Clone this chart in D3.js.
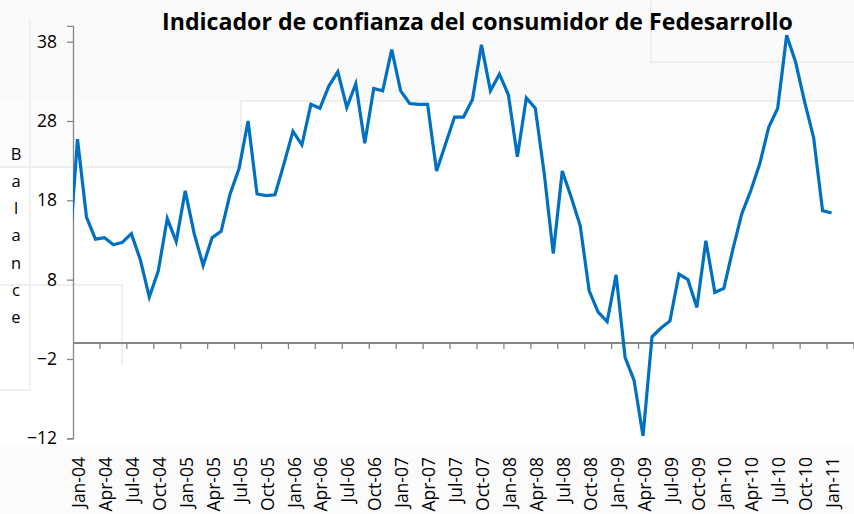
<!DOCTYPE html>
<html>
<head>
<meta charset="utf-8">
<script src="https://cdn.jsdelivr.net/npm/d3@7"></script>
<style>
  html, body { margin: 0; padding: 0; background: #fff; }
  svg { display: block; font-family: "Open Sans", sans-serif; }
</style>
</head>
<body>
<script>
// Datos: indicador mensual, Jan-04 a Jan-11
const valorPrevio = 10.0; // Dec-03, queda recortado en el borde del eje
const valores = [
  25.7, 15.9, 13.1, 13.3, 12.4, 12.7, 13.8, 10.5, 5.8, 9.1, 15.7, 12.8,
  19.2, 13.8, 9.8, 13.3, 14.1, 18.8, 22.0, 28.0, 18.8, 18.6, 18.7, 22.6,
  26.7, 25.0, 30.1, 29.6, 32.4, 34.2, 29.7, 32.7, 25.2, 32.1, 31.8, 37.0,
  31.8, 30.2, 30.1, 30.1, 21.7, 25.1, 28.5, 28.5, 30.7, 37.6, 31.8, 33.9,
  31.3, 23.5, 30.9, 29.6, 21.3, 11.3, 21.7, 18.4, 14.8, 6.6, 3.9, 2.7,
  8.6, -1.8, -4.7, -11.7, 0.8, 1.9, 2.8, 8.7, 8.0, 4.5, 12.9, 6.4,
  6.9, 11.8, 16.3, 19.2, 22.6, 27.2, 29.6, 38.8, 35.4, 30.4, 25.9, 16.7,
  16.4
];
const etiquetasX = [
  "Jan-04", "Apr-04", "Jul-04", "Oct-04", "Jan-05", "Apr-05", "Jul-05", "Oct-05",
  "Jan-06", "Apr-06", "Jul-06", "Oct-06", "Jan-07", "Apr-07", "Jul-07", "Oct-07",
  "Jan-08", "Apr-08", "Jul-08", "Oct-08", "Jan-09", "Apr-09", "Jul-09", "Oct-09",
  "Jan-10", "Apr-10", "Jul-10", "Oct-10", "Jan-11"
];
const ticksY = [-12, -2, 8, 18, 28, 38];
const totalCategorias = 87; // Jan-04 .. Mar-11
const titulo = "Indicador de confianza del consumidor de Fedesarrollo";
const etiquetaY = "Balance";

const width = 854;
const height = 514;

const svg = d3.select("body").append("svg")
  .attr("width", width)
  .attr("height", height);

// Fondo con los restos de la plantilla
svg.append("rect").attr("x", 0).attr("y", 0).attr("width", width).attr("height", 101).attr("fill", "#fafafa");
svg.append("rect").attr("x", 0).attr("y", 101).attr("width", 241).attr("height", 66).attr("fill", "#fcfcfc");
svg.append("rect").attr("x", 0).attr("y", 445).attr("width", width).attr("height", 69).attr("fill", "#fbfbfb");
const deco = svg.append("g").attr("fill", "none").attr("stroke", "#efefef").attr("stroke-width", 2);
deco.append("path").attr("d", "M0,167H241V101H854");
deco.append("path").attr("d", "M651,0V62H854");
deco.append("path").attr("d", "M30,20V390H0");
deco.append("path").attr("d", "M0,285H122V365");

// Escalas
const x = d3.scaleLinear().domain([0, totalCategorias]).range([73, 854]);
const y = d3.scaleLinear().domain([-12, 40]).range([438.3, 25.8]);

// Eje Y
const ejeY = svg.append("g")
  .attr("transform", `translate(${x(0)},0)`)
  .call(d3.axisLeft(y).tickValues(ticksY).tickSize(6).tickPadding(10).tickFormat(d3.format("d")));
ejeY.select(".domain").attr("stroke", "#868686").attr("stroke-width", 1.3);
ejeY.selectAll(".tick line").attr("stroke", "#868686").attr("stroke-width", 1.3);
ejeY.selectAll(".tick text")
  .attr("font-family", "Open Sans, sans-serif")
  .attr("font-size", "17.5px")
  .attr("fill", "#000");

// Eje X sobre la línea de cero
const indicesTicks = d3.range(0, 85, 3);
const ejeX = svg.append("g");
ejeX.append("line")
  .attr("x1", x(0)).attr("x2", width)
  .attr("y1", y(0)).attr("y2", y(0))
  .attr("stroke", "#868686").attr("stroke-width", 2);
ejeX.selectAll("line.tick")
  .data(indicesTicks.slice(1).concat([87]))
  .enter().append("line")
  .attr("class", "tick")
  .attr("x1", (d) => x(d)).attr("x2", (d) => x(d))
  .attr("y1", y(0)).attr("y2", y(0) + 6)
  .attr("stroke", "#868686").attr("stroke-width", 1.3);

svg.append("g").selectAll("text")
  .data(etiquetasX)
  .enter().append("text")
  .attr("transform", (d, i) => `translate(${x(indicesTicks[i] + 0.5) + 1.5},457) rotate(-90)`)
  .attr("text-anchor", "end")
  .attr("dy", "0.35em")
  .attr("font-size", "17.5px")
  .attr("fill", "#000")
  .text((d) => d);

// Línea de la serie
svg.append("clipPath").attr("id", "recorte")
  .append("rect").attr("x", x(0)).attr("y", 0).attr("width", width - x(0)).attr("height", height);

const puntos = [[-1, valorPrevio]].concat(valores.map((v, i) => [i, v]));
const linea = d3.line()
  .x((d) => x(d[0] + 0.5))
  .y((d) => y(d[1]));

svg.append("path")
  .datum(puntos)
  .attr("clip-path", "url(#recorte)")
  .attr("fill", "none")
  .attr("stroke", "#0070C0")
  .attr("stroke-width", 3.2)
  .attr("stroke-linejoin", "miter")
  .attr("d", linea);

// Título
const textoTitulo = svg.append("text")
  .attr("x", 477.5)
  .attr("y", 29.5)
  .attr("text-anchor", "middle")
  .attr("font-weight", "bold")
  .attr("font-size", "24px")
  .attr("fill", "#000")
  .text(titulo);
const anchoTitulo = textoTitulo.node().getComputedTextLength();
textoTitulo.attr("font-size", (24 * 631 / anchoTitulo) + "px");

// Etiqueta vertical "Balance", letra por letra
svg.append("g").selectAll("text")
  .data(etiquetaY.split(""))
  .enter().append("text")
  .attr("x", 16)
  .attr("y", (d, i) => 159.5 + i * 27.3)
  .attr("text-anchor", "middle")
  .attr("font-size", "16.5px")
  .attr("fill", "#000")
  .text((d) => d);
</script>
</body>
</html>
